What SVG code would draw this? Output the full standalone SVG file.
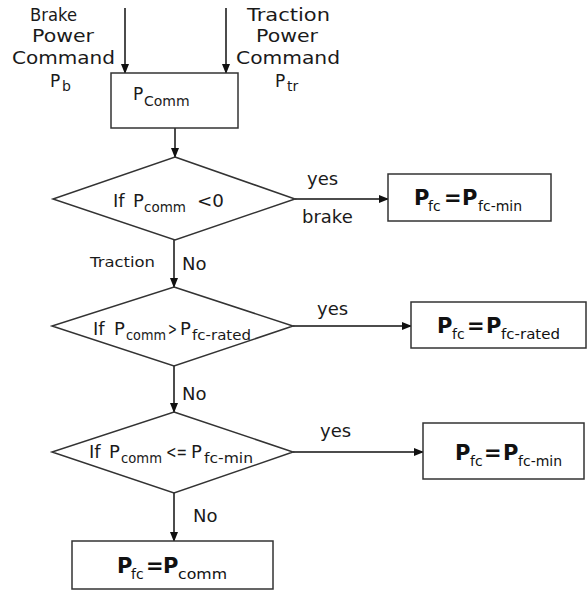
<svg xmlns="http://www.w3.org/2000/svg" width="588" height="592" viewBox="0 0 588 592">
<style>
.t{font-family:"DejaVu Sans","Liberation Sans",sans-serif;fill:#1a1a1a}
.l{font-size:17px}
.d{font-size:18px}
.s{font-size:14px}
.b{font-family:"DejaVu Sans","Liberation Sans",sans-serif;fill:#111;font-size:21px;font-weight:bold}
.bs{font-size:14px;font-weight:normal}
.shape{fill:#fff;stroke:#333;stroke-width:1.5}
.c{fill:none;stroke:#111;stroke-width:1.5;marker-end:url(#ah)}
</style>
<defs>
<marker id="ah" markerWidth="10" markerHeight="8" refX="9" refY="4" orient="auto" markerUnits="userSpaceOnUse">
<path d="M0,0 L10,4 L0,8 Z" fill="#111"/>
</marker>
</defs>
<rect width="588" height="592" fill="#fff"/>

<g id="connectors">
<line class="c" x1="125" y1="8" x2="125" y2="73"/>
<line class="c" x1="226" y1="8" x2="226" y2="73"/>
<line class="c" x1="175" y1="128" x2="175" y2="157"/>
<line class="c" x1="295" y1="199" x2="388" y2="199"/>
<line class="c" x1="174" y1="240" x2="174" y2="287"/>
<line class="c" x1="293" y1="326" x2="411" y2="326"/>
<line class="c" x1="174" y1="366" x2="174" y2="412"/>
<line class="c" x1="293" y1="452" x2="423" y2="452"/>
<line class="c" x1="174" y1="493" x2="174" y2="541"/>
<text class="t d" x="307" y="185">yes</text>
<text class="t d" x="302" y="223">brake</text>
<text class="t" x="90" y="267" font-size="14" textLength="65" lengthAdjust="spacingAndGlyphs">Traction</text>
<text class="t d" x="182" y="270">No</text>
<text class="t d" x="317" y="315">yes</text>
<text class="t d" x="182" y="400">No</text>
<text class="t d" x="320" y="437">yes</text>
<text class="t d" x="193" y="522">No</text>
</g>

<g id="brake-label">
<text class="t l" x="30" y="21" textLength="47" lengthAdjust="spacingAndGlyphs">Brake</text>
<text class="t l" x="32" y="42" textLength="62" lengthAdjust="spacingAndGlyphs">Power</text>
<text class="t l" x="12" y="64" textLength="103" lengthAdjust="spacingAndGlyphs">Command</text>
<text class="t l" x="50" y="87">P<tspan class="s" x="62" y="91">b</tspan></text>
</g>

<g id="traction-label">
<text class="t l" x="247" y="21" textLength="83" lengthAdjust="spacingAndGlyphs">Traction</text>
<text class="t l" x="256" y="42" textLength="62" lengthAdjust="spacingAndGlyphs">Power</text>
<text class="t l" x="236" y="64" textLength="104" lengthAdjust="spacingAndGlyphs">Command</text>
<text class="t l" x="275" y="87">P<tspan class="s" x="287" y="91">tr</tspan></text>
</g>

<g id="pcomm">
<rect class="shape" x="111" y="73" width="127" height="55"/>
<text class="t l" x="133" y="100">P<tspan class="s" x="144" y="106">Comm</tspan></text>
</g>

<g id="decision1">
<polygon class="shape" points="175,157 295,199 175,240 53,199"/>
<text class="t d" x="113" y="207">If <tspan x="133">P</tspan><tspan class="s" x="144" y="212" textLength="42" lengthAdjust="spacingAndGlyphs">comm</tspan><tspan x="197" y="207" textLength="27" lengthAdjust="spacingAndGlyphs">&lt;0</tspan></text>
</g>

<g id="result1">
<rect class="shape" x="388" y="174" width="163" height="47"/>
<text class="b" x="414" y="205">P<tspan class="bs" x="428" y="211">fc</tspan><tspan x="444" y="205">=</tspan><tspan x="462" y="205">P</tspan><tspan class="bs" x="478" y="211">fc-min</tspan></text>
</g>

<g id="decision2">
<polygon class="shape" points="174,287 293,326 174,366 52,326"/>
<text class="t d" x="93" y="335">If <tspan x="114">P</tspan><tspan class="s" x="126" y="340" textLength="40" lengthAdjust="spacingAndGlyphs">comm</tspan><tspan x="168" y="335" textLength="9" lengthAdjust="spacingAndGlyphs">&gt;</tspan><tspan x="180" y="335">P</tspan><tspan class="s" x="192" y="340" textLength="59" lengthAdjust="spacingAndGlyphs">fc-rated</tspan></text>
</g>

<g id="result2">
<rect class="shape" x="411" y="302" width="175" height="46"/>
<text class="b" x="437" y="333">P<tspan class="bs" x="452" y="339">fc</tspan><tspan x="467" y="333">=</tspan><tspan x="486" y="333">P</tspan><tspan class="bs" x="501" y="339" textLength="59" lengthAdjust="spacingAndGlyphs">fc-rated</tspan></text>
</g>

<g id="decision3">
<polygon class="shape" points="174,412 293,452 174,493 52,452"/>
<text class="t d" x="89" y="458">If <tspan x="109">P</tspan><tspan class="s" x="121" y="463" textLength="41" lengthAdjust="spacingAndGlyphs">comm</tspan><tspan x="166" y="458" textLength="21" lengthAdjust="spacingAndGlyphs">&lt;=</tspan><tspan x="191" y="458">P</tspan><tspan class="s" x="204" y="463" textLength="49" lengthAdjust="spacingAndGlyphs">fc-min</tspan></text>
</g>

<g id="result3">
<rect class="shape" x="423" y="423" width="161" height="56"/>
<text class="b" x="455" y="460">P<tspan class="bs" x="470" y="466">fc</tspan><tspan x="484" y="460">=</tspan><tspan x="503" y="460">P</tspan><tspan class="bs" x="518" y="466">fc-min</tspan></text>
</g>

<g id="result4">
<rect class="shape" x="72" y="541" width="201" height="48"/>
<text class="b" x="117" y="573">P<tspan class="bs" x="131" y="579">fc</tspan><tspan x="146" y="573">=</tspan><tspan x="163" y="573">P</tspan><tspan class="bs" x="178" y="579" textLength="49" lengthAdjust="spacingAndGlyphs">comm</tspan></text>
</g>
</svg>
